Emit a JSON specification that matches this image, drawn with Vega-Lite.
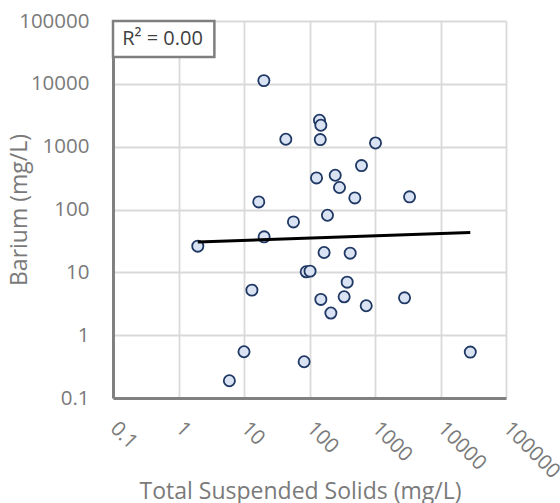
{
  "$schema": "https://vega.github.io/schema/vega-lite/v6.json",
  "width": 393,
  "height": 377,
  "autosize": {"type": "none"},
  "padding": {"left": 113, "top": 21, "right": 54, "bottom": 105},
  "background": "white",
  "config": {"view": {"stroke": null}, "font": "Open Sans"},
  "datasets": {
    "pts": [
      {"tss": 20.1, "ba": 11250},
      {"tss": 43.5, "ba": 1312},
      {"tss": 142, "ba": 2630},
      {"tss": 149, "ba": 2190},
      {"tss": 146, "ba": 1297},
      {"tss": 1018, "ba": 1146},
      {"tss": 622, "ba": 500},
      {"tss": 128, "ba": 318},
      {"tss": 247, "ba": 351},
      {"tss": 287, "ba": 224},
      {"tss": 492, "ba": 153},
      {"tss": 3370, "ba": 159},
      {"tss": 188, "ba": 81},
      {"tss": 56.9, "ba": 63.5},
      {"tss": 167, "ba": 20.7},
      {"tss": 418, "ba": 20.2},
      {"tss": 89, "ba": 10.2},
      {"tss": 102, "ba": 10.45},
      {"tss": 376, "ba": 6.98},
      {"tss": 338, "ba": 4.08},
      {"tss": 149, "ba": 3.71},
      {"tss": 2825, "ba": 3.93},
      {"tss": 212, "ba": 2.25},
      {"tss": 734, "ba": 2.94},
      {"tss": 82.8, "ba": 0.378},
      {"tss": 28500, "ba": 0.538},
      {"tss": 16.8, "ba": 132},
      {"tss": 20.3, "ba": 36.7},
      {"tss": 1.97, "ba": 26.1},
      {"tss": 13.2, "ba": 5.21},
      {"tss": 10.0, "ba": 0.545},
      {"tss": 5.98, "ba": 0.188}
    ],
    "trend": [
      {"tss": 1.97, "ba": 30.5},
      {"tss": 28500, "ba": 43.1}
    ],
    "r2": [{"label": "R² = 0.00"}]
  },
  "layer": [
    {
      "data": {"name": "pts"},
      "mark": {"type": "point", "shape": "circle", "filled": false, "fill": "#DAE3F3", "fillOpacity": 1, "stroke": "#1F3864", "strokeWidth": 1.8, "size": 125, "opacity": 1},
      "encoding": {
        "x": {
          "field": "tss", "type": "quantitative",
          "scale": {"type": "log", "domain": [0.1, 100000], "nice": false},
          "axis": {
            "title": "Total Suspended Solids (mg/L)",
            "values": [0.1, 1, 10, 100, 1000, 10000, 100000],
            "format": "~g",
            "labelAngle": 45, "labelAlign": "left", "labelBaseline": "middle",
            "labelPadding": 27, "ticks": false,
            "labelFlush": false, "labelOverlap": false,
            "domainColor": "#808080", "domainWidth": 3,
            "gridColor": "#D9D9D9", "gridWidth": 1.8,
            "labelColor": "#7A7A7A", "labelFontSize": 20.5, "labelFont": "Open Sans",
            "titleColor": "#7A7A7A", "titleFontSize": 23, "titleFontWeight": "normal", "titleFont": "Open Sans",
            "titleX": 187, "titleY": 82, "titleAnchor": "middle", "titleAlign": "center"
          }
        },
        "y": {
          "field": "ba", "type": "quantitative",
          "scale": {"type": "log", "domain": [0.1, 100000], "nice": false},
          "axis": {
            "title": "Barium (mg/L)",
            "values": [0.1, 1, 10, 100, 1000, 10000, 100000],
            "format": "~g",
            "labelPadding": 24, "ticks": false,
            "labelFlush": false, "labelOverlap": false,
            "domainColor": "#808080", "domainWidth": 3,
            "gridColor": "#D9D9D9", "gridWidth": 1.8,
            "labelColor": "#7A7A7A", "labelFontSize": 20.5, "labelFont": "Open Sans",
            "titleColor": "#7A7A7A", "titleFontSize": 23, "titleFontWeight": "normal", "titleFont": "Open Sans",
            "titleX": -82
          }
        }
      }
    },
    {
      "data": {"name": "trend"},
      "mark": {"type": "line", "color": "#000000", "strokeWidth": 3},
      "encoding": {
        "x": {"field": "tss", "type": "quantitative", "scale": {"type": "log", "domain": [0.1, 100000], "nice": false}},
        "y": {"field": "ba", "type": "quantitative", "scale": {"type": "log", "domain": [0.1, 100000], "nice": false}}
      }
    },
    {
      "data": {"name": "r2"},
      "mark": {"type": "rect", "fill": "#FFFFFF", "stroke": "#7F7F7F", "strokeWidth": 2.5},
      "encoding": {
        "x": {"datum": 0.1, "type": "quantitative", "scale": {"type": "log", "domain": [0.1, 100000], "nice": false}},
        "x2": {"datum": 3.53},
        "y": {"datum": 100000, "type": "quantitative", "scale": {"type": "log", "domain": [0.1, 100000], "nice": false}},
        "y2": {"datum": 26700}
      }
    },
    {
      "data": {"name": "r2"},
      "mark": {"type": "text", "align": "center", "baseline": "middle", "fontSize": 20, "font": "Open Sans", "color": "#404040"},
      "encoding": {
        "x": {"datum": 0.57, "type": "quantitative", "scale": {"type": "log", "domain": [0.1, 100000], "nice": false}},
        "y": {"datum": 51700, "type": "quantitative", "scale": {"type": "log", "domain": [0.1, 100000], "nice": false}},
        "text": {"field": "label"}
      }
    }
  ]
}
